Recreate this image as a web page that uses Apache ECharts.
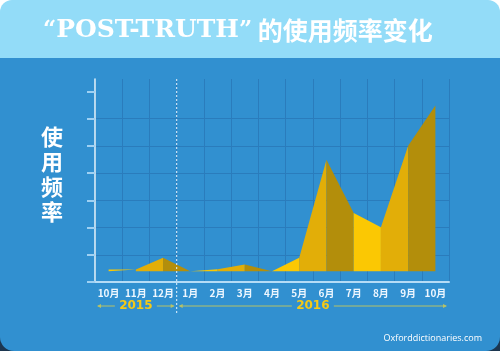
<!DOCTYPE html>
<html>
<head>
<meta charset="utf-8">
<script src="https://cdn.jsdelivr.net/npm/echarts@6/dist/echarts.min.js"></script>
<style>
    html, body {margin: 0; padding: 0;}
    #main {width: 500px; height: 351px;}
</style>
</head>
<body>
<div id="main"></div>
<script>
    // 横轴：2015年10月 ~ 2016年10月
    var months = ['10月', '11月', '12月', '1月', '2月', '3月', '4月', '5月', '6月', '7月', '8月', '9月', '10月'];
    // 使用频率
    var usage = [0.46, 0.46, 0.89, 0.39, 0.47, 0.64, 0.39, 0.89, 4.49, 2.53, 2.01, 5.0, 6.48];
    // 面积的底边
    var baseLevel = 0.39;
    // 纵轴刻度
    var yTicks = [0, 1, 2, 3, 4, 5, 6, 7];
    // 年份分段（按月份下标）
    var years = [{name: '2015', from: 0, to: 2}, {name: '2016', from: 3, to: 12}];
    var stripColors = ['#fbc803', '#e2ae08', '#b38e0b'];

    var chart = echarts.init(document.getElementById('main'));

    //每两个相邻月份画一段，颜色轮换做出折叠效果
    var series = [];
    for (var i = 0; i < months.length - 1; i++) {
        series.push({
            type: 'line',
            symbol: 'none',
            silent: true,
            lineStyle: {opacity: 0},
            areaStyle: {color: stripColors[i % 3], opacity: 1, origin: baseLevel},
            data: usage.map(function (v, j) {
                return (j === i || j === i + 1) ? v : null;
            })
        });
    }

    chart.setOption({
        backgroundColor: '#3190d0',
        animation: false,
        title: [
            {
                left: 38,
                top: 13,
                text: '{q|“}{a|POST-TRUTH}{q|”}{b| 的使用频率变化}',
                textStyle: {
                    rich: {
                        q: {color: '#ffffff', fontSize: 23, fontFamily: 'DejaVu Serif', fontWeight: 'bold'},
                        a: {
                            color: '#ffffff', fontSize: 25, fontFamily: 'DejaVu Serif', fontWeight: 'bold',
                            textShadowColor: '#b9e7f9', textShadowOffsetX: 2, textShadowOffsetY: 2, textShadowBlur: 0
                        },
                        b: {color: '#ffffff', fontSize: 25, fontFamily: 'Noto Sans CJK SC'}
                    }
                }
            },
            {
                left: 36,
                top: 119,
                text: '使\n用\n频\n率',
                textStyle: {color: '#ffffff', fontSize: 22, lineHeight: 25, fontWeight: 'bold', fontFamily: 'Noto Sans CJK SC'}
            }
        ],
        grid: {left: 95, right: 51, top: 79, bottom: 69},
        xAxis: [
            {
                type: 'category',
                data: months,
                boundaryGap: true,
                axisLine: {lineStyle: {color: '#b5dcf6', width: 2}},
                axisTick: {interval: 0, length: 4, lineStyle: {color: '#d6ecfb', width: 1.5}},
                axisLabel: {interval: 0, color: '#eef7ff', fontSize: 10, fontWeight: 'bold', margin: 6, fontFamily: 'Noto Sans CJK SC'},
                splitLine: {show: true, interval: 0, lineStyle: {color: '#2a7cbc', width: 1}}
            },
            {
                type: 'category',
                data: months,
                boundaryGap: true,
                position: 'bottom',
                axisLine: {show: false},
                axisTick: {interval: 0, inside: true, length: 4, lineStyle: {color: '#d6ecfb', width: 1.5}},
                axisLabel: {show: false},
                splitLine: {show: false}
            }
        ],
        yAxis: {
            type: 'value',
            min: 0,
            max: 7.45,
            interval: 1,
            axisLine: {show: true, lineStyle: {color: '#e6f4fd', width: 1.5}},
            axisTick: {show: true, length: 8, customValues: yTicks, lineStyle: {color: '#9fd1f3', width: 2}},
            axisLabel: {show: false},
            splitLine: {show: true, showMaxLine: false, lineStyle: {color: '#2a7cbc', width: 1}}
        },
        series: series
    });

    // 年份标注、分隔虚线等用坐标换算后再画
    function px(i) {
        return chart.convertToPixel({xAxisIndex: 0}, i);
    }
    var band = px(1) - px(0);
    var gridTop = 79;
    var yearY = 306;
    var graphics = [
        {type: 'rect', z: -10, shape: {x: 0, y: 0, width: 500, height: 20}, style: {fill: '#ffffff'}},
        {type: 'rect', z: -9, shape: {x: 0, y: 0, width: 500, height: 58, r: [12, 12, 0, 0]}, style: {fill: '#93dcf8'}},
        {type: 'rect', z: -10, shape: {x: 0, y: 320, width: 500, height: 31}, style: {fill: '#1c3650'}},
        {type: 'rect', z: -9, shape: {x: 0, y: 300, width: 500, height: 51, r: [0, 0, 14, 14]}, style: {fill: '#3190d0'}},
        {
            type: 'text', right: 18, top: 334,
            style: {text: 'Oxforddictionaries.com', fill: '#ffffff', font: '9px "Open Sans"'}
        }
    ];
    // 2015 / 2016 分隔虚线
    var divX = px(2) + band / 2;
    graphics.push({
        type: 'line', z: 5,
        shape: {x1: divX, y1: gridTop, x2: divX, y2: 314},
        style: {stroke: '#e8f5ff', lineWidth: 1, lineDash: [2, 2]}
    });
    years.forEach(function (yr) {
        var x0 = px(yr.from) - band / 2 + 3;
        var x1 = px(yr.to) + band / 2 - 3;
        var cx = (x0 + x1) / 2;
        var half = 21;
        graphics.push({
            type: 'text', z: 5, x: cx, y: yearY,
            style: {text: yr.name, fill: '#f5c916', font: 'bold 12px "DejaVu Sans"', align: 'center', verticalAlign: 'middle'}
        });
        var lc = '#b7c266';
        graphics.push({type: 'line', z: 5, shape: {x1: x0, y1: yearY, x2: cx - half, y2: yearY}, style: {stroke: lc, lineWidth: 1}});
        graphics.push({type: 'line', z: 5, shape: {x1: cx + half, y1: yearY, x2: x1, y2: yearY}, style: {stroke: lc, lineWidth: 1}});
        graphics.push({type: 'polygon', z: 5, shape: {points: [[x0 - 1, yearY], [x0 + 3, yearY - 2], [x0 + 3, yearY + 2]]}, style: {fill: lc}});
        graphics.push({type: 'polygon', z: 5, shape: {points: [[x1 + 1, yearY], [x1 - 3, yearY - 2], [x1 - 3, yearY + 2]]}, style: {fill: lc}});
    });
    chart.setOption({graphic: graphics});
</script>
</body>
</html>
